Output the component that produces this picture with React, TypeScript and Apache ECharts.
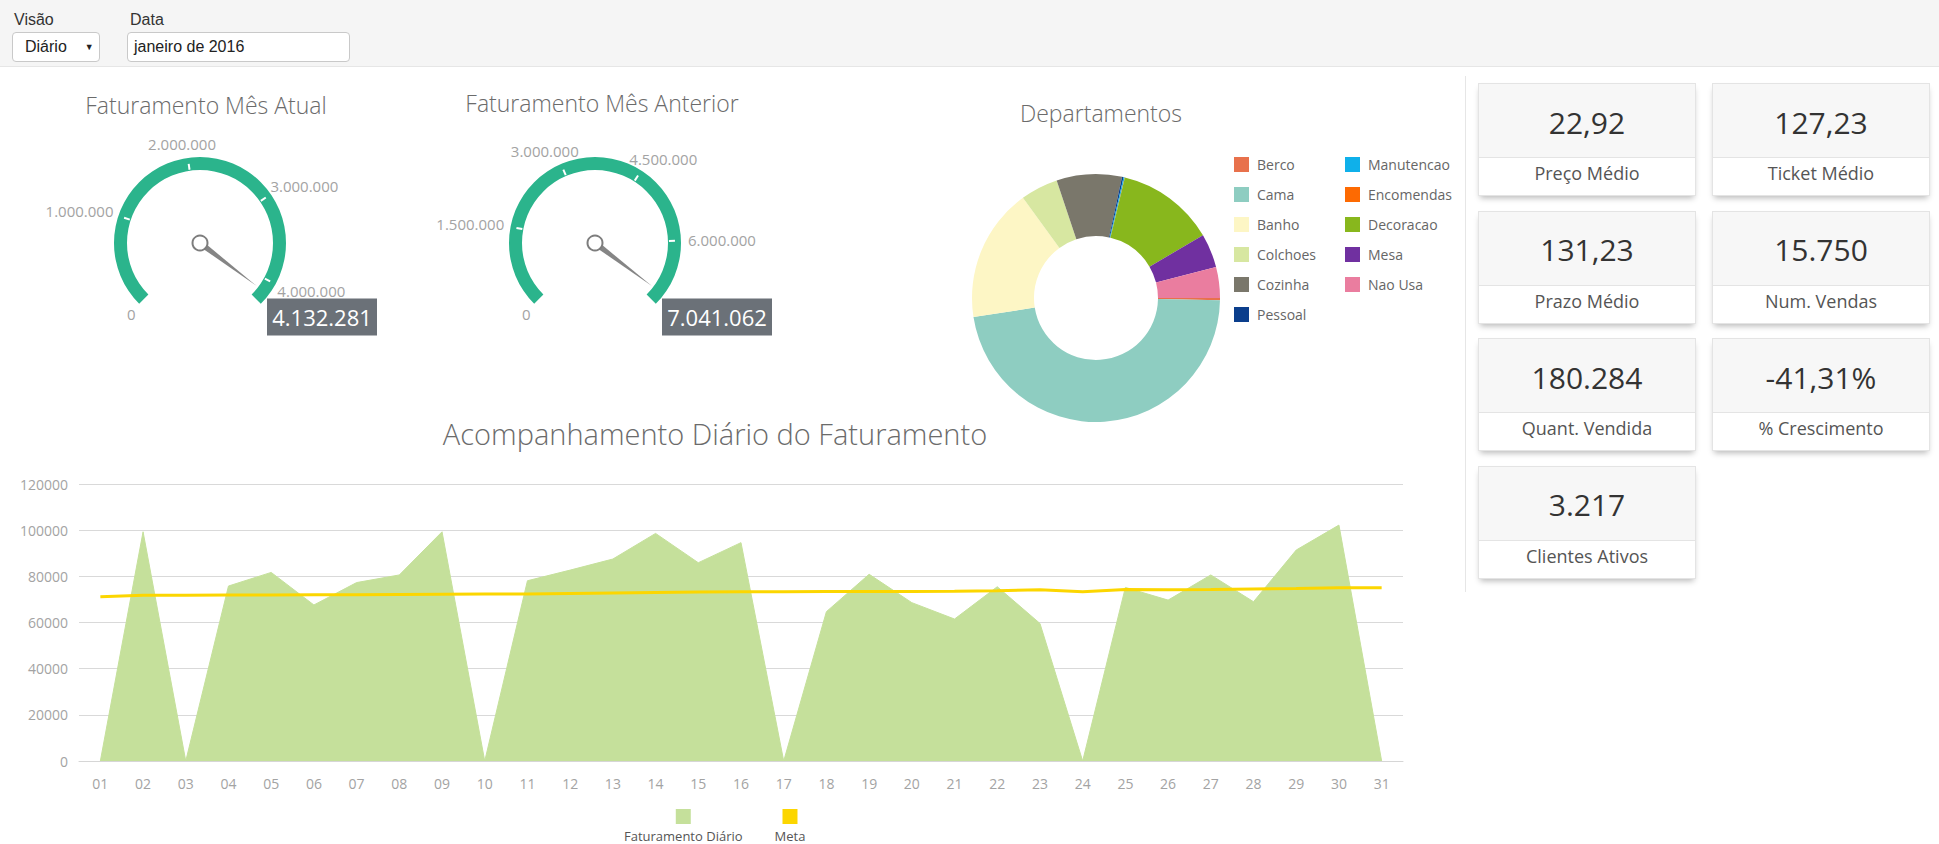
import React, { useEffect, useRef } from 'react';
import * as echarts from 'echarts';

// ---------- DATA ----------
const DAYS = ['01', '02', '03', '04', '05', '06', '07', '08', '09', '10', '11', '12', '13', '14', '15', '16', '17', '18', '19', '20', '21', '22', '23', '24', '25', '26', '27', '28', '29', '30', '31'];
const FATURAMENTO_DIARIO = [0, 99300, 0, 75800, 81700, 67600, 77300, 80600, 99300, 0, 78100, 82700, 87500, 98600, 85900, 94600, 0, 64700, 80900, 68600, 61500, 75500, 59600, 0, 75200, 69700, 80600, 69000, 91400, 102200, 0];
const META = [71200, 71800, 71800, 71900, 71900, 72000, 72000, 72100, 72200, 72300, 72400, 72600, 72800, 73000, 73200, 73300, 73300, 73400, 73400, 73400, 73500, 73800, 74200, 73300, 74300, 74200, 74300, 74500, 74700, 75100, 75100];
const LINE_SERIES_NAMES = ['Faturamento Diário', 'Meta'];
const Y_MIN = 0;
const Y_MAX = 120000;
const Y_STEP = 20000;

const DEPARTAMENTOS = ['Berco', 'Cama', 'Banho', 'Colchoes', 'Cozinha', 'Pessoal', 'Manutencao', 'Encomendas', 'Decoracao', 'Mesa', 'Nao Usa'];
const DEPTO_VALORES = [11500, 1950000, 719000, 202000, 351000, 8300, 5800, 1200, 529000, 182000, 166000];
const DEPTO_CORES = ['#e8714c', '#8ecdc1', '#fdf6c5', '#d7e7a1', '#7a776b', '#0b3e8c', '#0fb0ea', '#fd6a02', '#88b71d', '#7030a0', '#ea7d9f'];

const GAUGE_TITLES = ['Faturamento Mês Atual', 'Faturamento Mês Anterior'];
const GAUGE_VALUES = [4132281, 7041062];
const GAUGE_TICKS = [
  [0, 1000000, 2000000, 3000000, 4000000],
  [0, 1500000, 3000000, 4500000, 6000000],
];
const GAUGE_HEADROOM = 1.03;

const KPI_VALUES = ['22,92', '127,23', '131,23', '15.750', '180.284', '-41,31%', '3.217'];
const KPI_LABELS = ['Preço Médio', 'Ticket Médio', 'Prazo Médio', 'Num. Vendas', 'Quant. Vendida', '% Crescimento', 'Clientes Ativos'];

const VISAO = 'Diário';
const DATA_SEL = 'janeiro de 2016';

// ---------- STYLE ----------
const FONT = "'Open Sans', 'Segoe UI', 'Noto Sans', sans-serif";
const UI_FONT = "'Liberation Sans', Arial, sans-serif";
const GAUGE_GREEN = '#2bb48c';
const AREA_GREEN = '#c5e09b';
const META_YELLOW = '#fcd600';
const TITLE_COLOR = '#6b6b6b';
const LABEL_GRAY = '#a3a3a3';
const GAUGE_CENTERS = [[200, 243], [595, 243]];
const GAUGE_LABEL_RADIUS = 93;
const GAUGE_LABEL_SIZE = 15;
const GAUGE_LABEL_H = 14;

const fmt = (v: number) => String(Math.round(v)).replace(/\B(?=(\d{3})+(?!\d))/g, '.');

let measureCtx: CanvasRenderingContext2D | null = null;
function textWidth(t: string, size: number): number {
  if (!measureCtx && typeof document !== 'undefined') {
    measureCtx = document.createElement('canvas').getContext('2d');
  }
  if (!measureCtx) return t.length * size * 0.55;
  measureCtx.font = `${size}px ${FONT}`;
  return measureCtx.measureText(t).width;
}

function buildOption(): any {
  const gaugeMax = GAUGE_VALUES.map((v) => v * GAUGE_HEADROOM);

  const mainGauges = GAUGE_VALUES.map((v, i) => ({
    type: 'gauge',
    center: GAUGE_CENTERS[i],
    radius: 86,
    startAngle: 225,
    endAngle: -45,
    min: 0,
    max: gaugeMax[i],
    axisLine: { lineStyle: { width: 13, color: [[1, GAUGE_GREEN]] } },
    splitLine: { show: false },
    axisTick: { show: false },
    axisLabel: { show: false },
    pointer: { length: '83%', width: 3, itemStyle: { color: '#858585' } },
    anchor: { show: true, showAbove: true, size: 15, itemStyle: { color: '#fff', borderColor: '#7d7d7d', borderWidth: 2 } },
    title: { show: false },
    detail: {
      show: true,
      offsetCenter: [122, 74],
      formatter: (x: number) => fmt(x),
      color: '#fff',
      fontSize: 22,
      fontWeight: 'normal',
      fontFamily: FONT,
      backgroundColor: '#6b7178',
      width: 94,
      lineHeight: 27,
      padding: [5, 8, 5, 8],
      borderRadius: 0,
    },
    data: [{ value: v, name: GAUGE_TITLES[i] }],
    z: 2,
  }));

  const tickGauges = GAUGE_TICKS.map((ticks, i) => {
    const first = ticks[1];
    const last = ticks[ticks.length - 1];
    return {
      type: 'gauge',
      silent: true,
      center: GAUGE_CENTERS[i],
      radius: 86,
      startAngle: 225 - (270 * first) / gaugeMax[i],
      endAngle: 225 - (270 * last) / gaugeMax[i],
      min: first,
      max: last,
      splitNumber: ticks.length - 2,
      axisLine: { show: false, lineStyle: { width: 13 } },
      splitLine: { show: true, distance: -7, length: 6, lineStyle: { color: '#ffffff', width: 2 } },
      axisTick: { show: false },
      axisLabel: { show: false },
      pointer: { show: false },
      anchor: { show: false },
      title: { show: false },
      detail: { show: false },
      data: [{ value: first }],
      z: 3,
    };
  });

  const labelSeries = GAUGE_TICKS.map((ticks, i) => ({
    type: 'custom',
    coordinateSystem: 'polar',
    polarIndex: i,
    silent: true,
    z: 1,
    data: ticks.map((t) => [1, t]),
    renderItem: (_params: any, api: any) => {
      const v = api.value(1);
      const p = api.coord([1, v]);
      const c = api.coord([0, v]);
      const dx = p[0] - c[0];
      const dy = p[1] - c[1];
      const len = Math.hypot(dx, dy) || 1;
      const text = fmt(v);
      const w = textWidth(text, GAUGE_LABEL_SIZE);
      return {
        type: 'text',
        x: p[0] + ((dx / len) * w) / 2,
        y: p[1] + ((dy / len) * GAUGE_LABEL_H) / 2,
        style: {
          text,
          align: 'center',
          verticalAlign: 'middle',
          fill: LABEL_GRAY,
          fontSize: GAUGE_LABEL_SIZE,
          fontFamily: FONT,
        },
      };
    },
  }));

  const smallTitle = { fontSize: 23, fontWeight: 300, color: TITLE_COLOR, fontFamily: FONT };

  return {
    animation: false,
    textStyle: { fontFamily: FONT },
    title: [
      { text: GAUGE_TITLES[0], left: 201, top: 88, textAlign: 'center', textStyle: smallTitle },
      { text: GAUGE_TITLES[1], left: 597, top: 86, textAlign: 'center', textStyle: smallTitle },
      { text: 'Departamentos', left: 1096, top: 96, textAlign: 'center', textStyle: smallTitle },
      { text: 'Acompanhamento Diário do Faturamento', left: 710, top: 414, textAlign: 'center', textStyle: { fontSize: 29, fontWeight: 300, color: TITLE_COLOR, fontFamily: FONT } },
    ],
    polar: GAUGE_CENTERS.map((c) => ({ center: c, radius: [0, GAUGE_LABEL_RADIUS] })),
    radiusAxis: GAUGE_CENTERS.map((_, i) => ({ polarIndex: i, type: 'value', min: 0, max: 1, show: false })),
    angleAxis: GAUGE_CENTERS.map((_, i) => ({
      polarIndex: i,
      type: 'value',
      startAngle: 225,
      clockwise: true,
      min: 0,
      max: (gaugeMax[i] * 360) / 270,
      show: false,
      axisLine: { show: false },
      splitLine: { show: false },
      axisTick: { show: false },
      axisLabel: { show: false },
    })),
    legend: [
      {
        data: DEPARTAMENTOS.slice(0, 6),
        orient: 'vertical',
        left: 1229,
        top: 152,
        itemWidth: 15,
        itemHeight: 15,
        itemGap: 15,
        icon: 'rect',
        textStyle: { color: '#666', fontSize: 14, fontFamily: FONT, padding: [0, 0, 0, 3] },
      },
      {
        data: DEPARTAMENTOS.slice(6),
        orient: 'vertical',
        left: 1340,
        top: 152,
        itemWidth: 15,
        itemHeight: 15,
        itemGap: 15,
        icon: 'rect',
        textStyle: { color: '#666', fontSize: 14, fontFamily: FONT, padding: [0, 0, 0, 3] },
      },
      {
        data: LINE_SERIES_NAMES,
        left: 613,
        top: 804,
        icon: 'none',
        itemWidth: 1,
        itemHeight: 15,
        itemGap: 26,
        formatter: (name: string) => `{s${LINE_SERIES_NAMES.indexOf(name)}| }\n{t|${name}}`,
        textStyle: {
          color: '#555',
          fontSize: 13,
          fontFamily: FONT,
          rich: {
            s0: { width: 15, height: 15, lineHeight: 15, backgroundColor: AREA_GREEN, align: 'center', fontSize: 1 },
            s1: { width: 15, height: 15, lineHeight: 15, backgroundColor: META_YELLOW, align: 'center', fontSize: 1 },
            t: { fontSize: 13, color: '#555', lineHeight: 18, padding: [6, 0, 0, 0], align: 'center', fontFamily: FONT },
          },
        },
      },
    ],
    grid: { left: 79, right: 536, top: 484, bottom: 83, containLabel: false },
    xAxis: {
      type: 'category',
      data: DAYS,
      boundaryGap: true,
      axisLine: { show: true, lineStyle: { color: '#d6d6d6' } },
      axisTick: { show: false },
      axisLabel: { color: LABEL_GRAY, fontSize: 14, margin: 15, fontFamily: FONT },
    },
    yAxis: {
      type: 'value',
      min: Y_MIN,
      max: Y_MAX,
      interval: Y_STEP,
      axisLine: { show: false },
      axisTick: { show: false },
      axisLabel: { color: LABEL_GRAY, fontSize: 14, margin: 11, fontFamily: FONT, formatter: (val: number) => String(val) },
      splitLine: { lineStyle: { color: '#d9d9d9' } },
    },
    series: [
      ...labelSeries,
      ...mainGauges,
      ...tickGauges,
      {
        type: 'pie',
        center: [1096, 298],
        radius: [62, 124],
        startAngle: 0,
        clockwise: true,
        avoidLabelOverlap: false,
        label: { show: false },
        labelLine: { show: false },
        emphasis: { scale: false },
        data: DEPARTAMENTOS.map((n, i) => ({ name: n, value: DEPTO_VALORES[i], itemStyle: { color: DEPTO_CORES[i] } })),
      },
      {
        name: LINE_SERIES_NAMES[0],
        type: 'line',
        data: FATURAMENTO_DIARIO,
        symbol: 'none',
        itemStyle: { color: AREA_GREEN },
        lineStyle: { width: 1, color: AREA_GREEN },
        areaStyle: { color: AREA_GREEN, opacity: 1 },
        z: 2,
      },
      {
        name: LINE_SERIES_NAMES[1],
        type: 'line',
        data: META,
        symbol: 'none',
        itemStyle: { color: META_YELLOW },
        lineStyle: { width: 3, color: META_YELLOW },
        z: 3,
      },
    ],
  };
}

export default function App() {
  const ref = useRef<HTMLDivElement>(null);
  useEffect(() => {
    document.body.style.margin = '0';
    document.body.style.overflow = 'hidden';
    const chart = echarts.init(ref.current as HTMLDivElement, null, { renderer: 'svg' });
    chart.setOption(buildOption());
    return () => chart.dispose();
  }, []);

  const labelStyle: React.CSSProperties = { position: 'absolute', top: 11, fontSize: 16, lineHeight: '18px', color: '#333', fontFamily: UI_FONT };
  const boxStyle: React.CSSProperties = {
    position: 'absolute', top: 32, height: 30, boxSizing: 'border-box', border: '1px solid #c9c9c9', borderRadius: 4,
    background: '#fff', fontSize: 16, color: '#222', fontFamily: UI_FONT, display: 'flex', alignItems: 'center',
  };

  return (
    <div style={{ position: 'absolute', left: 0, top: 0, width: 1939, height: 844, overflow: 'hidden', background: '#fff' }}>
      <div ref={ref} style={{ position: 'absolute', left: 0, top: 0, width: 1939, height: 844 }} />
      <div style={{ position: 'absolute', left: 0, top: 0, width: 1939, height: 66, background: '#f5f5f5', borderBottom: '1px solid #e6e6e6' }}>
        <div style={{ ...labelStyle, left: 14 }}>Visão</div>
        <div style={{ ...boxStyle, left: 12, width: 88, paddingLeft: 12 }}>
          <span>{VISAO}</span>
          <span style={{ fontSize: 9, marginLeft: 18 }}>▼</span>
        </div>
        <div style={{ ...labelStyle, left: 130 }}>Data</div>
        <div style={{ ...boxStyle, left: 127, width: 223, paddingLeft: 6 }}>{DATA_SEL}</div>
      </div>
      <div style={{ position: 'absolute', left: 1465, top: 76, width: 1, height: 516, background: '#e6e6e6' }} />
      {KPI_VALUES.map((v, i) => {
        const col = i % 2;
        const row = Math.floor(i / 2);
        return (
          <div
            key={i}
            style={{
              position: 'absolute', left: 1478 + col * 234, top: 83 + row * 127.5, width: 218, height: 113,
              boxSizing: 'border-box', border: '1px solid #e4e4e4', background: '#fff',
              boxShadow: '0 4px 6px -2px rgba(0,0,0,0.28)', fontFamily: FONT,
            }}
          >
            <div style={{ height: 74, boxSizing: 'border-box', background: '#f7f7f7', borderBottom: '1px solid #e4e4e4', display: 'flex', alignItems: 'center', justifyContent: 'center', fontSize: 30, color: '#333', paddingTop: 3 }}>
              {v}
            </div>
            <div style={{ textAlign: 'center', fontSize: 18, lineHeight: '24px', paddingTop: 3, color: '#555' }}>{KPI_LABELS[i]}</div>
          </div>
        );
      })}
    </div>
  );
}
